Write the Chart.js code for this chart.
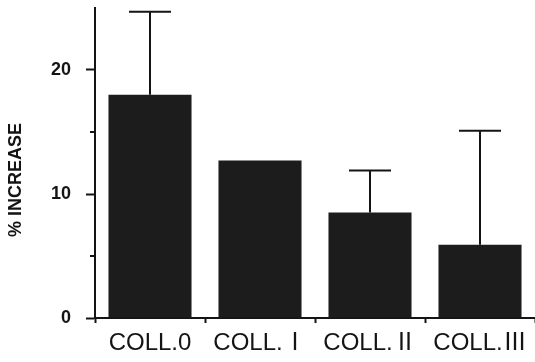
<!DOCTYPE html>
<html>
<head>
<meta charset="utf-8">
<script src="https://cdn.jsdelivr.net/npm/chart.js@4.4.1/dist/chart.umd.min.js"></script>
<style>
  @font-face {
    font-family: 'RomanNum';
    src: local('Noto Sans CJK JP'), local('Noto Sans CJK JP Regular'), local('NotoSansCJKjp-Regular');
    unicode-range: U+2160-216F;
  }
  html, body { margin: 0; padding: 0; background: #fff; }
  #wrap { width: 535px; height: 362px; }
</style>
</head>
<body>
<div id="wrap"><canvas id="barChart"></canvas></div>
<script>
// values
const groups = ['COLL.0', 'COLL.Ⅰ', 'COLL.Ⅱ', 'COLL.Ⅲ'];
const increase = [18.0, 12.7, 8.5, 5.9];
const errUp = [6.7, 0, 3.4, 9.2];
const yTicks = [0, 10, 20];
const yMinorTicks = [5, 15];

const ink = '#141414';
const fontFam = "RomanNum, 'Liberation Sans', Arial, 'Noto Sans CJK JP', sans-serif";

// upward-only error bars, drawn through the y scale
const errorBars = {
  id: 'errorBars',
  afterDatasetsDraw(chart) {
    const ctx = chart.ctx;
    const y = chart.scales.y;
    const meta = chart.getDatasetMeta(0);
    ctx.save();
    ctx.strokeStyle = ink;
    ctx.lineWidth = 2;
    meta.data.forEach((bar, i) => {
      if (!errUp[i]) return;
      const top = y.getPixelForValue(increase[i] + errUp[i]);
      ctx.beginPath();
      ctx.moveTo(bar.x, bar.y);
      ctx.lineTo(bar.x, top);
      ctx.moveTo(bar.x - 21, top);
      ctx.lineTo(bar.x + 21, top);
      ctx.stroke();
    });
    ctx.restore();
  }
};

// short minor ticks and the rotated axis title
const axisExtras = {
  id: 'axisExtras',
  afterDraw(chart) {
    const ctx = chart.ctx;
    const y = chart.scales.y;
    const area = chart.chartArea;
    ctx.save();
    ctx.strokeStyle = ink;
    ctx.lineWidth = 2;
    yMinorTicks.forEach(v => {
      const py = y.getPixelForValue(v);
      ctx.beginPath();
      ctx.moveTo(area.left - 5, py);
      ctx.lineTo(area.left, py);
      ctx.stroke();
    });
    ctx.translate(16, (area.top + area.bottom) / 2 + 17);
    ctx.rotate(-Math.PI / 2);
    ctx.fillStyle = ink;
    ctx.font = 'bold 18px ' + fontFam;
    ctx.textAlign = 'center';
    ctx.textBaseline = 'middle';
    ctx.fillText('% INCREASE', 0, 0);
    ctx.restore();
  }
};

function drawChart() {
  new Chart(document.getElementById('barChart'), {
    type: 'bar',
    data: {
      labels: groups,
      datasets: [{
        data: increase,
        backgroundColor: '#1c1c1c',
        borderWidth: 0,
        categoryPercentage: 1,
        barPercentage: 0.755
      }]
    },
    options: {
      responsive: true,
      maintainAspectRatio: false,
      animation: false,
      layout: { padding: { top: 8, right: 0, left: 0, bottom: 0 } },
      plugins: {
        legend: { display: false },
        tooltip: { enabled: false }
      },
      scales: {
        x: {
          afterFit: s => { s.height = 44; s.paddingLeft = 0; s.paddingRight = 0; },
          grid: { drawOnChartArea: false, tickLength: 5, tickWidth: 2, tickColor: ink },
          border: { color: ink, width: 2 },
          ticks: {
            color: ink,
            padding: 6,
            font: { family: fontFam, size: 24 }
          }
        },
        y: {
          min: 0,
          max: 25,
          afterFit: s => { s.width = 95; s.paddingTop = 0; s.paddingBottom = 0; },
          grid: {
            drawOnChartArea: false,
            tickLength: 9,
            tickWidth: 2,
            tickColor: c => yTicks.includes(c.tick.value) ? ink : 'transparent'
          },
          border: { color: ink, width: 2 },
          ticks: {
            stepSize: 5,
            color: ink,
            padding: 15,
            font: { family: fontFam, size: 18, weight: 'bold' },
            callback: v => yTicks.includes(v) ? v : ''
          }
        }
      }
    },
    plugins: [errorBars, axisExtras]
  });
}

document.fonts.load('24px RomanNum', 'ⅠⅡⅢ').then(drawChart, drawChart);
</script>
</body>
</html>
